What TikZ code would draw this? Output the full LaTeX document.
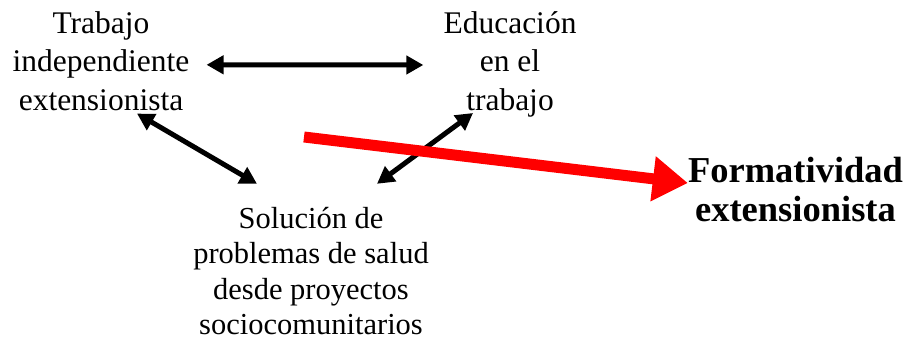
\documentclass[tikz,border=0pt]{standalone}
\usepackage{fontspec}
\setmainfont{Liberation Serif}
\usepackage{xcolor}
\usetikzlibrary{arrows.meta}

\tikzset{
  caja/.style={inner sep=0pt, align=center, font=\fontsize{31.5pt}{38.5pt}\selectfont},
  cajabaja/.style={inner sep=0pt, align=center, font=\fontsize{30.5pt}{35.5pt}\selectfont},
  flecha/.style={{Triangle[length=17pt,width=18pt]}-{Triangle[length=17pt,width=18pt]}, black, line width=5pt},
  flecharoja/.style={-{Triangle[length=35pt,width=43pt]}, red, line width=11pt}
}

\begin{document}
\begin{tikzpicture}[x=1pt, y=-1pt]
\useasboundingbox (0,0) rectangle (909,339);
\node[caja] (trabajo) at (101,60.8) {Trabajo\\independiente\\extensionista};
\node[caja] (educacion) at (510,64) {Educación\\en el\\trabajo};
\node[cajabaja] (solucion) at (311,271) {Solución de\\problemas de salud\\desde proyectos\\sociocomunitarios};
\node[inner sep=0pt, align=center, font=\fontsize{36.5pt}{39pt}\selectfont\bfseries] (formatividad) at (795.5,190) {Formatividad\\extensionista};
\coordinate (origen) at (304,137);

\draw [flecha]([xshift=17pt,yshift=-4pt]trabajo.east) to ([xshift=-20pt,yshift=-1pt]educacion.west);
\draw [flecha]([xshift=36pt,yshift=-3pt]trabajo.south) to ([xshift=-54pt,yshift=23pt]solucion.north);
\draw [flecha]([xshift=-37pt,yshift=4pt]educacion.south) to ([xshift=66pt,yshift=23pt]solucion.north);
\draw [flecharoja](origen) to ([yshift=7pt]formatividad.west);
\end{tikzpicture}
\end{document}
